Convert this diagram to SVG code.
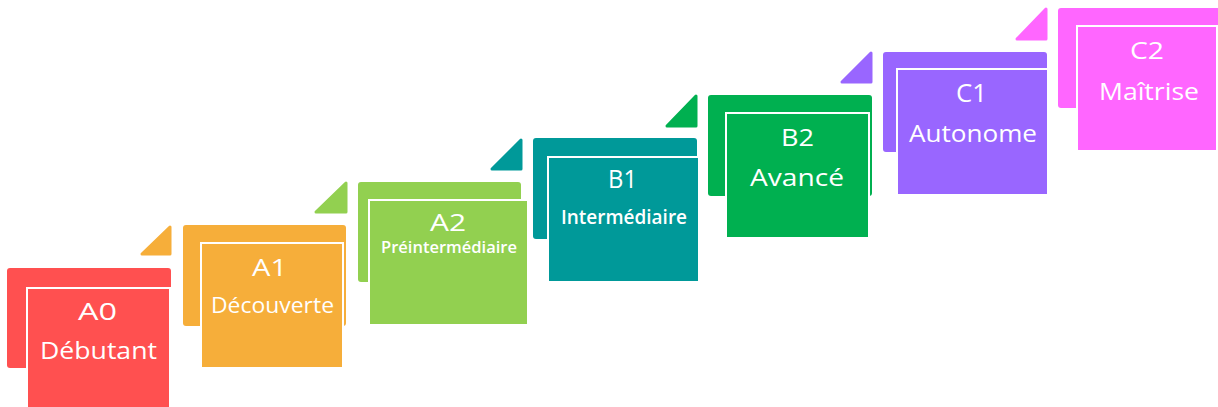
<svg xmlns="http://www.w3.org/2000/svg" width="1218" height="407" viewBox="0 0 1218 407">
<style>
.back{rx:3;ry:3}
.front{stroke:#ffffff;stroke-width:2}
.tri{stroke-width:3;stroke-linejoin:round}
text{font-family:"Open Sans","Noto Sans","DejaVu Sans",sans-serif;fill:#ffffff;text-anchor:middle}
.lv{font-size:24px}
.nm{font-size:23px}
.sm{font-weight:600}
</style>
<rect width="1218" height="407" fill="#ffffff"/>
<g id="A0" fill="#FF5050">
<rect class="back" x="7" y="268" width="164" height="100"/>
<rect class="front" x="27" y="288" width="143" height="125"/>
<text class="lv" x="97.5" y="320" textLength="39" lengthAdjust="spacingAndGlyphs">A0</text>
<text class="nm" x="98.5" y="359" textLength="117" lengthAdjust="spacingAndGlyphs">Débutant</text>
</g>
<g id="A1" fill="#F6AE3A">
<polygon class="tri" stroke="#F6AE3A" points="142,254 170,227 170,254"/>
<rect class="back" x="183" y="225" width="163" height="101"/>
<rect class="front" x="201" y="243" width="142" height="125"/>
<text class="lv" x="269.5" y="276" textLength="35" lengthAdjust="spacingAndGlyphs">A1</text>
<text style="font-size:21px" x="272.5" y="313" textLength="123" lengthAdjust="spacingAndGlyphs">Découverte</text>
</g>
<g id="A2" fill="#92D050">
<polygon class="tri" stroke="#92D050" points="316,212 346,183 346,212"/>
<rect class="back" x="358" y="182" width="163" height="100"/>
<rect class="front" x="369" y="200" width="159" height="125"/>
<text class="lv" x="448" y="231" textLength="36" lengthAdjust="spacingAndGlyphs">A2</text>
<text class="sm" style="font-size:16px" x="449" y="253" textLength="136" lengthAdjust="spacingAndGlyphs">Préintermédiaire</text>
</g>
<g id="B1" fill="#009999">
<polygon class="tri" stroke="#009999" points="492,169 521,140 521,169"/>
<rect class="back" x="533" y="138" width="164" height="101"/>
<rect class="front" x="548" y="157" width="151" height="125"/>
<text class="lv" style="font-size:25px" x="622.5" y="188" textLength="29" lengthAdjust="spacingAndGlyphs">B1</text>
<text class="sm" style="font-size:19px" x="624" y="224" textLength="126" lengthAdjust="spacingAndGlyphs">Intermédiaire</text>
</g>
<g id="B2" fill="#00B050">
<polygon class="tri" stroke="#00B050" points="667,126 696,96 696,126"/>
<rect class="back" x="708" y="95" width="164" height="101"/>
<rect class="front" x="726" y="113" width="143" height="125"/>
<text class="lv" x="797.5" y="146" textLength="33" lengthAdjust="spacingAndGlyphs">B2</text>
<text class="lv" x="797" y="186" textLength="94" lengthAdjust="spacingAndGlyphs">Avancé</text>
</g>
<g id="C1" fill="#9966FF">
<polygon class="tri" stroke="#9966FF" points="842,82 871,53 871,82"/>
<rect class="back" x="883" y="52" width="164" height="100"/>
<rect class="front" x="897" y="69" width="151" height="126"/>
<text class="lv" style="font-size:25px" x="971.5" y="102" textLength="31" lengthAdjust="spacingAndGlyphs">C1</text>
<text class="lv" x="973" y="142" textLength="128" lengthAdjust="spacingAndGlyphs">Autonome</text>
</g>
<g id="C2" fill="#FF66FF">
<polygon class="tri" stroke="#FF66FF" points="1017,39 1046,9 1046,39"/>
<rect class="back" x="1058" y="8" width="164" height="100"/>
<rect class="front" x="1077" y="26" width="140" height="125"/>
<text class="lv" x="1147" y="59" textLength="34" lengthAdjust="spacingAndGlyphs">C2</text>
<text class="lv" x="1149" y="100" textLength="100" lengthAdjust="spacingAndGlyphs">Maîtrise</text>
</g>
<g id="connectors"/>
</svg>
